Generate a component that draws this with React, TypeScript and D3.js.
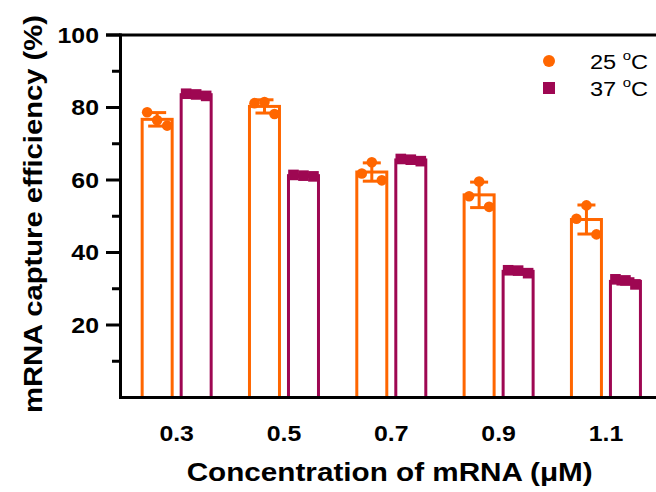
import React from "react";
import * as d3 from "d3";

// ---- data ----
const categories = ["0.3", "0.5", "0.7", "0.9", "1.1"];
const seriesNames = ["25", "37"];
// replicate points per concentration: [left, centre, right]
const values25 = [
  [78.7, 76.5, 75.0],
  [81.2, 81.5, 78.2],
  [61.8, 64.9, 59.9],
  [55.5, 59.6, 52.6],
  [49.3, 53.0, 45.0],
];
const values37 = [
  [83.8, 83.6, 83.2],
  [61.4, 61.2, 61.0],
  [65.8, 65.6, 65.2],
  [35.1, 35.0, 34.3],
  [32.6, 32.3, 31.2],
];
const majorTicks = [20, 40, 60, 80, 100];
const minorTicks = [10, 30, 50, 70, 90];
const yTitle = "mRNA capture efficiency (%)";
const xTitle = "Concentration of mRNA (\u03bcM)";

const ORANGE = "#FF6600";
const PURPLE = "#9E0752";
const FONT = "'Liberation Sans', Arial, Helvetica, sans-serif";
const SX = 1.13;

export default function App() {
  const W = 656, H = 492;
  const axisX = 120.5;
  const y = d3.scaleLinear().domain([0, 100]).range([397.5, 35]);
  const x = d3.scaleBand<string>().domain(categories).range([123, 659.6]).paddingInner(0).paddingOuter(0);
  const bw = x.bandwidth();
  const xs = d3.scaleBand<string>().domain(seriesNames).range([bw / 2 - 36, bw / 2 + 36]).paddingInner(0.154).paddingOuter(0);
  const sbw = xs.bandwidth();
  const sw = 3;
  const jitter = [-10, 0, 10];

  const seriesData = [
    { name: "25", vals: values25, color: ORANGE, shape: "circle" },
    { name: "37", vals: values37, color: PURPLE, shape: "square" },
  ];

  return (
    <svg width={W} height={H} style={{ position: "absolute", left: 0, top: 0, background: "#fff" }} fontFamily={FONT}>
      {/* bars */}
      {seriesData.map((s) =>
        categories.map((c, i) => {
          const pts = s.vals[i];
          const m = d3.mean(pts) as number;
          const sd = d3.deviation(pts) as number;
          const x0 = (x(c) as number) + (xs(s.name) as number);
          const cx = x0 + sbw / 2;
          return (
            <g key={s.name + c}>
              <rect x={x0 + sw / 2} y={y(m)} width={sbw - sw} height={y(0) - y(m)} fill="#fff" stroke={s.color} strokeWidth={sw} />
              <line x1={cx} x2={cx} y1={y(m - sd)} y2={y(m + sd)} stroke={s.color} strokeWidth={sw} />
              <line x1={cx - 9} x2={cx + 9} y1={y(m + sd)} y2={y(m + sd)} stroke={s.color} strokeWidth={sw} />
              <line x1={cx - 9} x2={cx + 9} y1={y(m - sd)} y2={y(m - sd)} stroke={s.color} strokeWidth={sw} />
              {pts.map((v, k) =>
                s.shape === "circle" ? (
                  <circle key={k} cx={cx + jitter[k]} cy={y(v)} r={5.3} fill={s.color} />
                ) : (
                  <rect key={k} x={cx + jitter[k] - 5.3} y={y(v) - 5.3} width={10.6} height={10.6} fill={s.color} />
                )
              )}
            </g>
          );
        })
      )}

      {/* axes */}
      <line x1={106} x2={W} y1={y(100)} y2={y(100)} stroke="#000" strokeWidth={3} />
      <line x1={119} x2={W} y1={y(0)} y2={y(0)} stroke="#000" strokeWidth={3} />
      <line x1={axisX} x2={axisX} y1={y(100) - 1.5} y2={y(0) + 1.5} stroke="#000" strokeWidth={3} />
      {majorTicks.map((t) => (
        <g key={"M" + t}>
          <line x1={106} x2={axisX} y1={y(t)} y2={y(t)} stroke="#000" strokeWidth={3} />
          <text transform={`translate(99,${y(t) + 7.8}) scale(${SX},1)`} textAnchor="end" fontSize={22} fontWeight="bold" fill="#000">
            {t}
          </text>
        </g>
      ))}
      {minorTicks.map((t) => (
        <line key={"m" + t} x1={112} x2={axisX} y1={y(t)} y2={y(t)} stroke="#000" strokeWidth={3} />
      ))}
      {categories.map((c) => (
        <text key={"xl" + c} transform={`translate(${(x(c) as number) + bw / 2},441) scale(${SX},1)`} textAnchor="middle" fontSize={22} fontWeight="bold" fill="#000">
          {c}
        </text>
      ))}

      {/* titles */}
      <text x={389.7} y={481} textAnchor="middle" fontSize={26} fontWeight="bold" fill="#000" textLength={406} lengthAdjust="spacingAndGlyphs">
        {xTitle}
      </text>
      <text transform="translate(42,214) rotate(-90)" textAnchor="middle" fontSize={26} fontWeight="bold" fill="#000" textLength={398} lengthAdjust="spacingAndGlyphs">
        {yTitle}
      </text>

      {/* legend */}
      {seriesData.map((s, i) => {
        const ly = 61 + i * 27;
        return (
          <g key={"lg" + s.name}>
            {s.shape === "circle" ? (
              <circle cx={549} cy={ly} r={6} fill={s.color} />
            ) : (
              <rect x={543} y={ly - 6} width={12} height={12} fill={s.color} />
            )}
            <text transform={`translate(590,${ly + 8}) scale(1.15,1)`} fontSize={20.5} fill="#000">
              {s.name + " "}
              <tspan fontSize={13} dy={-9}>o</tspan>
              <tspan dy={9}>C</tspan>
            </text>
          </g>
        );
      })}
    </svg>
  );
}
